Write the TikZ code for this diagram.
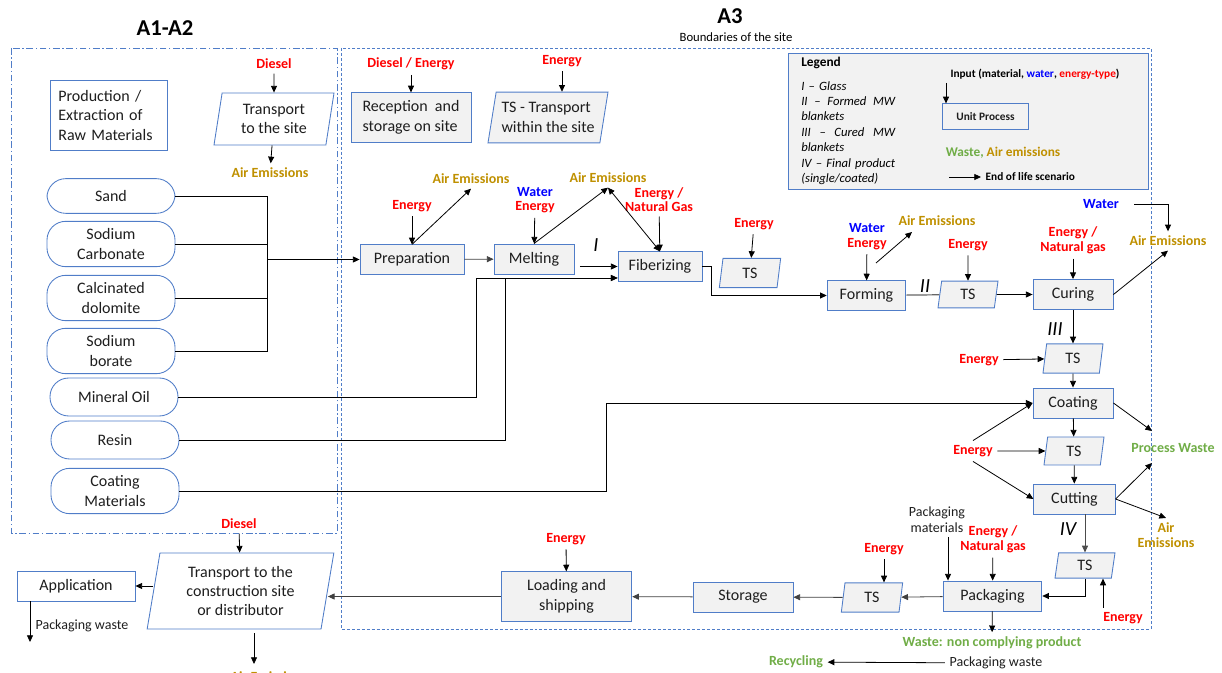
\documentclass[tikz,border=0pt]{standalone}
\usepackage{fontspec}
\setmainfont{Carlito}
\usepackage{tikz}
\usetikzlibrary{arrows.meta}
\usetikzlibrary{shapes}
\usetikzlibrary{shapes.geometric}

\definecolor{bblue}{RGB}{80,125,200}
\definecolor{gfill}{RGB}{242,242,242}
\definecolor{ered}{RGB}{255,0,0}
\definecolor{agold}{RGB}{191,144,0}
\definecolor{wgreen}{RGB}{112,173,71}
\definecolor{wblue}{RGB}{0,0,255}
\definecolor{tgray}{RGB}{30,30,30}

\tikzset{
  >={Triangle[length=5pt,width=4.5pt]},
  proc/.style={draw=bblue, line width=0.65pt, fill=gfill, text=tgray, inner sep=2pt, font=\fontsize{12}{14.6}\selectfont},
  procw/.style={proc, fill=white},
  tsbox/.style={proc, trapezium, trapezium left angle=77, trapezium right angle=103, trapezium stretches body=true},
  raw/.style={draw=bblue, line width=0.65pt, rounded corners=14pt, minimum width=96pt, align=center, text=tgray, font=\fontsize{12}{14.6}\selectfont},
  inp/.style={text=ered, align=center, font=\bfseries\fontsize{10.5}{11}\selectfont},
  emis/.style={inp, text=agold},
  waste/.style={inp, text=wgreen},
  note/.style={align=center, text=tgray, font=\fontsize{10.5}{12}\selectfont},
  roman/.style={font=\itshape\fontsize{15}{15}\selectfont},
  link/.style={->, line width=0.6pt},
  plain/.style={line width=0.6pt},
}

\begin{document}
\begin{tikzpicture}[x=0.75pt, y=-0.75pt]
  \useasboundingbox (0,0) rectangle (1222,673);
  \draw[bblue, line width=0.6pt, dash pattern=on 5pt off 2pt on 1pt off 2pt] (11,48) rectangle (337,533);
  \draw[bblue, line width=0.6pt, dash pattern=on 2.2pt off 1.5pt] (341,48) rectangle (1151,629);
  \node[font=\bfseries\fontsize{17}{17}\selectfont] (ta) at (165,28) {A1-A2};
  \node[font=\bfseries\fontsize{17}{17}\selectfont] (tb) at (730,16) {A3};
  \node[font=\fontsize{9.5}{10}\selectfont] (tbs) at (736,37) {Boundaries of the site};

  \node[draw=bblue, line width=0.65pt, fill=gfill, minimum width=270pt, minimum height=102pt] (leg) at (968,121) {};
  \node[anchor=west, inner sep=0pt, font=\bfseries\fontsize{10}{11}\selectfont] (legt) at (801,63) {Legend};
  \node[anchor=north west, inner sep=0pt, text width=70.5pt, align=left, font=\itshape\fontsize{9.5}{11.6}\selectfont] (legl) at (801,81)
    {I -- Glass\\ II \hfill -- \hfill Formed \hfill MW\\ blankets\\ III \hfill -- \hfill Cured \hfill MW\\ blankets\\ IV -- Final product\\ (single/coated)};
  \node[font=\bfseries\fontsize{8.5}{9}\selectfont] (legin) at (1035,74) {Input (material, \textcolor{wblue}{water}, \textcolor{ered}{energy-type})};
  \node[proc, font=\bfseries\fontsize{8.5}{9}\selectfont, minimum width=65pt, minimum height=19pt] (legu) at (985.5,116.5) {Unit Process};
  \node[font=\bfseries\fontsize{10}{11}\selectfont] (legw) at (1003,153) {\textcolor{wgreen}{Waste,} \textcolor{agold}{Air emissions}};
  \node[anchor=west, font=\bfseries\fontsize{8.5}{9}\selectfont] (lege) at (981,177) {End of life scenario};
  \coordinate (legia) at (946,83);
  \coordinate (legea) at (949,177);

  \node[procw, text width=76pt, inner xsep=6pt, align=left, minimum height=53pt] (pex) at (109,115.5) {Production /\\Extraction of\\Raw Materials};
  \node[inp] (dsa) at (274,64) {Diesel};
  \node[tsbox, fill=white, minimum width=90pt, minimum height=39pt, align=center] (tsite) at (274,119) {Transport\\to the site};
  \node[emis] (aea) at (270,173) {Air Emissions};

  \node[raw, minimum height=26pt] (sand) at (111,196) {Sand};
  \node[raw, minimum height=34pt] (sodc) at (111,244) {Sodium\\Carbonate};
  \node[raw, minimum height=34pt] (cdol) at (111,298) {Calcinated\\dolomite};
  \node[raw, minimum height=34pt] (sbor) at (111,351) {Sodium\\borate};
  \node[raw, minimum height=28.5pt] (moil) at (114,397) {Mineral Oil};
  \node[raw, minimum height=28.5pt] (resin) at (115,440) {Resin};
  \node[raw, minimum height=34pt] (coat) at (115,491) {Coating\\Materials};

  \node[inp] (dsb) at (411,64) {Diesel / Energy};
  \node[proc, minimum width=90pt, minimum height=37pt, align=left] (recep) at (411,117.5) {Reception\ \ and\\storage on site};
  \node[inp] (ents) at (562,61) {Energy};
  \node[tsbox, minimum width=90pt, minimum height=38pt, align=left] (tsw) at (548,117.5) {TS - Transport\\within the site};

  \node[inp] (enpr) at (412,206) {Energy};
  \node[emis] (aepr) at (471,179) {Air Emissions};
  \node[proc, minimum width=78pt, minimum height=22pt] (prep) at (412,259.5) {Preparation};
  \node[inp] (enme) at (535,200) {\textcolor{wblue}{Water}\\Energy};
  \node[emis] (aeme) at (608,178) {Air Emissions};
  \node[proc, minimum width=60pt, minimum height=22.5pt] (melt) at (534,259) {Melting};
  \node[roman] (ri) at (596,245) {I};
  \node[inp] (enfi) at (659,199.5) {Energy /\\Natural Gas};
  \node[proc, minimum width=63pt, minimum height=22pt] (fib) at (660,266.5) {Fiberizing};
  \node[inp] (ents1) at (754,224) {Energy};
  \node[tsbox, minimum width=46pt, minimum height=22pt] (ts1) at (750,273) {TS};

  \node[inp] (enfo) at (867,236.5) {\textcolor{wblue}{Water}\\Energy};
  \node[emis] (aefo) at (937,221) {Air Emissions};
  \node[proc, minimum width=59pt, minimum height=22pt] (form) at (866.5,295.5) {Forming};
  \node[roman] (rii) at (925,286) {II};
  \node[inp] (ents2) at (968,245) {Energy};
  \node[tsbox, minimum width=45pt, minimum height=20pt] (ts2) at (968,294.5) {TS};
  \node[inp] (encu) at (1073,240.5) {Energy /\\Natural gas};
  \node[inp, text=wblue] (wacu) at (1101,204) {Water};
  \node[emis] (aecu) at (1168,241) {Air Emissions};
  \node[proc, minimum width=60pt, minimum height=22.5pt] (cur) at (1073,294.5) {Curing};

  \node[roman] (riii) at (1055,329) {III};
  \node[inp] (ents3) at (979,360) {Energy};
  \node[tsbox, minimum width=45pt, minimum height=22pt] (ts3) at (1073,358.5) {TS};
  \node[proc, minimum width=60pt, minimum height=22.5pt] (coating) at (1073,403) {Coating};
  \node[waste] (pw) at (1173,448) {Process Waste};
  \node[inp] (encut) at (973,451) {Energy};
  \node[tsbox, minimum width=45pt, minimum height=21pt] (ts4) at (1074,451) {TS};
  \node[proc, minimum width=61pt, minimum height=22.5pt] (cut) at (1074.5,499) {Cutting};
  \node[emis] (aecut) at (1166,535) {Air\\Emissions};
  \node[roman] (riv) at (1068,529) {IV};
  \node[tsbox, minimum width=45pt, minimum height=19pt] (ts5) at (1085,565.5) {TS};
  \node[inp] (ents5) at (1123,618) {Energy};

  \node[note] (pmat) at (937,520) {Packaging\\materials};
  \node[inp] (enpa) at (993,539.5) {Energy /\\Natural gas};
  \node[proc, minimum width=74pt, minimum height=22.5pt] (pack) at (992.5,596) {Packaging};
  \node[waste] (wnc) at (992,643) {Waste: non complying product};
  \node[inp] (ents6) at (884,549) {Energy};
  \node[tsbox, minimum width=46pt, minimum height=22pt] (ts6) at (872,597.5) {TS};
  \node[proc, minimum width=75pt, minimum height=22.5pt] (stor) at (743,597) {Storage};
  \node[inp] (enlo) at (566,539) {Energy};
  \node[proc, minimum width=98pt, minimum height=37pt, align=center] (load) at (566.5,596.5) {Loading and\\shipping};

  \node[inp] (dsc) at (239,524) {Diesel};
  \node[tsbox, fill=white, minimum width=140pt, minimum height=57pt, align=center] (tcon) at (240.5,591) {Transport to the\\construction site\\or distributor};
  \node[emis] (aecon) at (269,677) {Air Emissions};
  \node[procw, minimum width=88.5pt, minimum height=22.5pt] (app) at (76,586) {Application};
  \node[note] (pwa) at (82,626) {Packaging waste};
  \node[waste] (recy) at (796,662) {Recycling};
  \node[note] (pwb) at (996,663) {Packaging waste};

  \coordinate (bus) at (267,259.5);
  \coordinate (oilup) at (476,278);
  \coordinate (resup) at (505,278);
  \coordinate (coatup) at (606,403);
  \coordinate (fibout) at (711,295.5);
  \coordinate (foae) at (876,263);
  \coordinate (foae2) at (912,232);
  \coordinate (pwin) at (1152,431);
  \coordinate (pwin2) at (1152,463);
  \coordinate (en5) at (1103,608);
  \coordinate (pmin) at (948,537);
  \coordinate (conout) at (254,633);
  \coordinate (conae) at (254,664);
  \coordinate (appout) at (30,642);

  \draw[link] (legia) -- (legia |- legu.north);
  \draw[link] (legea) -- (lege.west);
  \draw[link] (dsa) -- (tsite);
  \draw[link] (tsite) -- (aea);
  \draw[plain] (sand.east) -| (bus);
  \draw[plain] (sodc.east) -- (sodc.east -| bus);
  \draw[plain] (cdol.east) -- (cdol.east -| bus);
  \draw[plain] (sbor.east) -| (bus);
  \draw[link] (bus) -- (prep.west);
  \draw[link] (dsb) -- (recep);
  \draw[link] (ents.south) -- (ents.south |- tsw.north);
  \draw[link] (enpr) -- (prep);
  \draw[link] (prep.north) -- (aepr.south);
  \draw[link, black!75] (prep) -- (melt);
  \draw[link] (enme) -- (melt);
  \draw[link] (melt.north) -- (aeme.south);
  \draw[link] ([xshift=4pt]melt.east |- fib.west) -- (fib.west);
  \draw[link] (enfi) -- (fib);
  \draw[<->, line width=0.6pt] (aeme.south) -- (fib.north);
  \draw[link] (moil.east) -| (oilup) -- (oilup -| fib.west);
  \draw[link] (resin.east) -| (resup) -- (resup -| fib.west);
  \draw[link] (coat.east) -| (coatup) -- (coating.west);
  \draw[link] (ents1) -- (ts1);
  \draw[link] (fib.east) -| (fibout) -- (form.west);
  \draw[link] (enfo) -- (form);
  \draw[link] (foae) -- (foae2);
  \draw[plain, black!60, line width=0.9pt] (form) -- (ts2);
  \draw[link] (ents2) -- (ts2);
  \draw[link] (ts2) -- (cur);
  \draw[link] (encu) -- (cur);
  \draw[link] (cur.east) -- (aecu.south);
  \draw[link] ([xshift=8pt]wacu.east) -| (aecu.north);
  \draw[link] (cur) -- (ts3);
  \draw[link] (ents3) -- (ts3);
  \draw[link] (ts3) -- (coating);
  \draw[link] (coating.east) -- (pwin);
  \draw[link] (encut.north) -- (coating.west);
  \draw[link] (encut) -- (ts4);
  \draw[link] (encut.south) -- (cut.west);
  \draw[link] (coating) -- (ts4);
  \draw[link] (ts4) -- (cut);
  \draw[link] (cut.east) -- (pwin2);
  \draw[link] (cut.east) -- (aecut.north);
  \draw[link, black!70] (cut.south -| ts5.north) -- (ts5.north);
  \draw[link] (ts5.south) |- (pack.east);
  \draw[link] (en5) -- (en5 |- ts5.south);
  \draw[link] (pmin) -- (pmin |- pack.north);
  \draw[link] (enpa) -- (pack);
  \draw[link] (pack) -- (wnc);
  \draw[link, black!75] (pack) -- (ts6);
  \draw[link] (ents6) -- (ents6 |- ts6.north);
  \draw[link, black!75] (ts6) -- (stor);
  \draw[link, black!75] (stor) -- (load);
  \draw[link] (enlo) -- (load);
  \draw[link, black!75] (load.west) -- (load.west -| tcon.east);
  \draw[link] (dsc) -- (tcon);
  \draw[link] (conout) -- (conae);
  \draw[link] (tcon.west |- app.east) -- (app.east);
  \draw[link] (appout |- app.south) -- (appout);
  \draw[link] (pwb) -- (recy);
\end{tikzpicture}
\end{document}
